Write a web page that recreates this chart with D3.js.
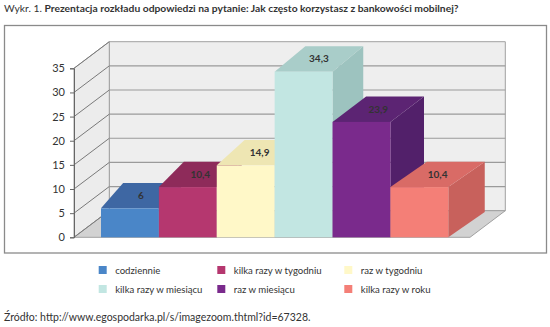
<!DOCTYPE html>
<html><head><meta charset="utf-8">
<script src="https://cdn.jsdelivr.net/npm/d3@7"></script>
<style>
html,body{margin:0;padding:0;background:#fff;}
svg{display:block;font-family:Lato,"Open Sans",sans-serif;}
</style></head>
<body><svg id="c" width="550" height="327"></svg>
<script>
const categories = ["codziennie","kilka razy w tygodniu","raz w tygodniu","kilka razy w miesiącu","raz w miesiącu","kilka razy w roku"];
const values = [6, 10.4, 14.9, 34.3, 23.9, 10.4];
const valueLabels = ["6","10,4","14,9","34,3","23,9","10,4"];
const yTicks = [0,5,10,15,20,25,30,35];
const frontColors = ["#4a86c8","#b5376f","#fff8c8","#c2e6e2","#7a2a8c","#f47f77"];
const topColors   = ["#3e67a3","#8e2b5a","#eee6b3","#a9cdc9","#5c2473","#d96b66"];
const sideColors  = ["#365a90","#7c244f","#ddd5a2","#9dc3bf","#52206a","#c8615c"];

const svg = d3.select("#c");
const y = d3.scaleLinear().domain([0,35]).range([237.3,68.3]);
const x = d3.scaleBand().domain(categories).range([101,448.3]).paddingInner(0).paddingOuter(0);
const front = {x0:74, x1:470};
const wall = {dx:35.3, dy:-26.6};
const barDy = -25.4;
const barDx = categories.map((c,i)=>22.1 + 2.87*i);

// title
const t = svg.append("text").attr("x",4).attr("y",12).attr("font-size",10.3).attr("fill","#333");
t.append("tspan").text("Wykr. 1. ");
t.append("tspan").attr("font-weight","bold").text("Prezentacja rozkładu odpowiedzi na pytanie: Jak często korzystasz z bankowości mobilnej?");

// outer box
svg.append("rect").attr("x",4.5).attr("y",25.5).attr("width",542).attr("height",227.5)
  .attr("fill","none").attr("stroke","#8a8a8a").attr("stroke-width",1.3);

const g = svg.append("g");
const y0 = y(0), yT = y(35);
const bx0 = front.x0 + wall.dx, bx1 = front.x1 + wall.dx;
// back wall
g.append("polygon").attr("points",[[bx0,yT+wall.dy],[bx1,yT+wall.dy],[bx1,y0+wall.dy],[bx0,y0+wall.dy]].join(" "))
  .attr("fill","#eeeeee").attr("stroke","#a0a0a0").attr("stroke-width",1);
// left wall
g.append("polygon").attr("points",[[front.x0,yT],[bx0,yT+wall.dy],[bx0,y0+wall.dy],[front.x0,y0]].join(" "))
  .attr("fill","#ececec").attr("stroke","#a0a0a0").attr("stroke-width",1);
// floor
g.append("polygon").attr("points",[[front.x0,y0],[front.x1,y0],[bx1,y0+wall.dy],[bx0,y0+wall.dy]].join(" "))
  .attr("fill","#d2d2d2").attr("stroke","#a0a0a0").attr("stroke-width",1);
// gridlines
yTicks.forEach(v=>{
  const yy = y(v);
  if (v>0 && v<35) {
    g.append("line").attr("x1",bx0).attr("x2",bx1).attr("y1",yy+wall.dy).attr("y2",yy+wall.dy)
      .attr("stroke","#9a9a9a").attr("stroke-width",1.2);
  }
  g.append("line").attr("x1",front.x0).attr("x2",bx0).attr("y1",yy).attr("y2",yy+wall.dy)
    .attr("stroke","#7a7a7a").attr("stroke-width",1);
});
// y axis
const axis = d3.axisLeft(y).tickValues(yTicks).tickSize(4).tickPadding(5).tickFormat(d=>d);
const ag = svg.append("g").attr("transform",`translate(${front.x0},0)`).call(axis);
ag.select(".domain").attr("stroke","#666");
ag.selectAll(".tick line").attr("stroke","#666");
ag.selectAll("text").attr("font-family","Lato,sans-serif").attr("font-size",11).attr("fill","#333");

// bars
const bars = svg.append("g");
categories.forEach((c,i)=>{
  const xl = x(c), xr = x(c)+x.bandwidth(), yt = y(values[i]), dx = barDx[i], dy = barDy;
  bars.append("polygon").attr("points",[[xr,yt],[xr+dx,yt+dy],[xr+dx,y0+dy],[xr,y0]].join(" ")).attr("fill",sideColors[i]);
  bars.append("polygon").attr("points",[[xl,yt],[xr,yt],[xr+dx,yt+dy],[xl+dx,yt+dy]].join(" ")).attr("fill",topColors[i]);
  bars.append("rect").attr("x",xl).attr("y",yt).attr("width",x.bandwidth()).attr("height",y0-yt).attr("fill",frontColors[i]);
  bars.append("text").attr("x",(xl+xr)/2+dx/2).attr("y",yt+dy/2+3.5).attr("text-anchor","middle")
    .attr("font-size",10).attr("font-weight","bold").attr("fill","#333").text(valueLabels[i]);
});

// legend
const lgX = [98.7, 217.3, 344.3], lgY = [271, 290];
const lg = svg.append("g");
categories.forEach((c,i)=>{
  const col = i%3, row = Math.floor(i/3);
  lg.append("rect").attr("x",lgX[col]).attr("y",lgY[row]-5).attr("width",8).attr("height",8).attr("fill",frontColors[i]);
  lg.append("text").attr("x",lgX[col]+16.5).attr("y",lgY[row]+3).attr("font-size",9.6).attr("fill","#333").text(c);
});

svg.append("text").attr("x",4).attr("y",321).attr("font-size",10.5).attr("fill","#333")
  .text("Źródło: http://www.egospodarka.pl/s/imagezoom.thtml?id=67328.");
</script></body></html>
